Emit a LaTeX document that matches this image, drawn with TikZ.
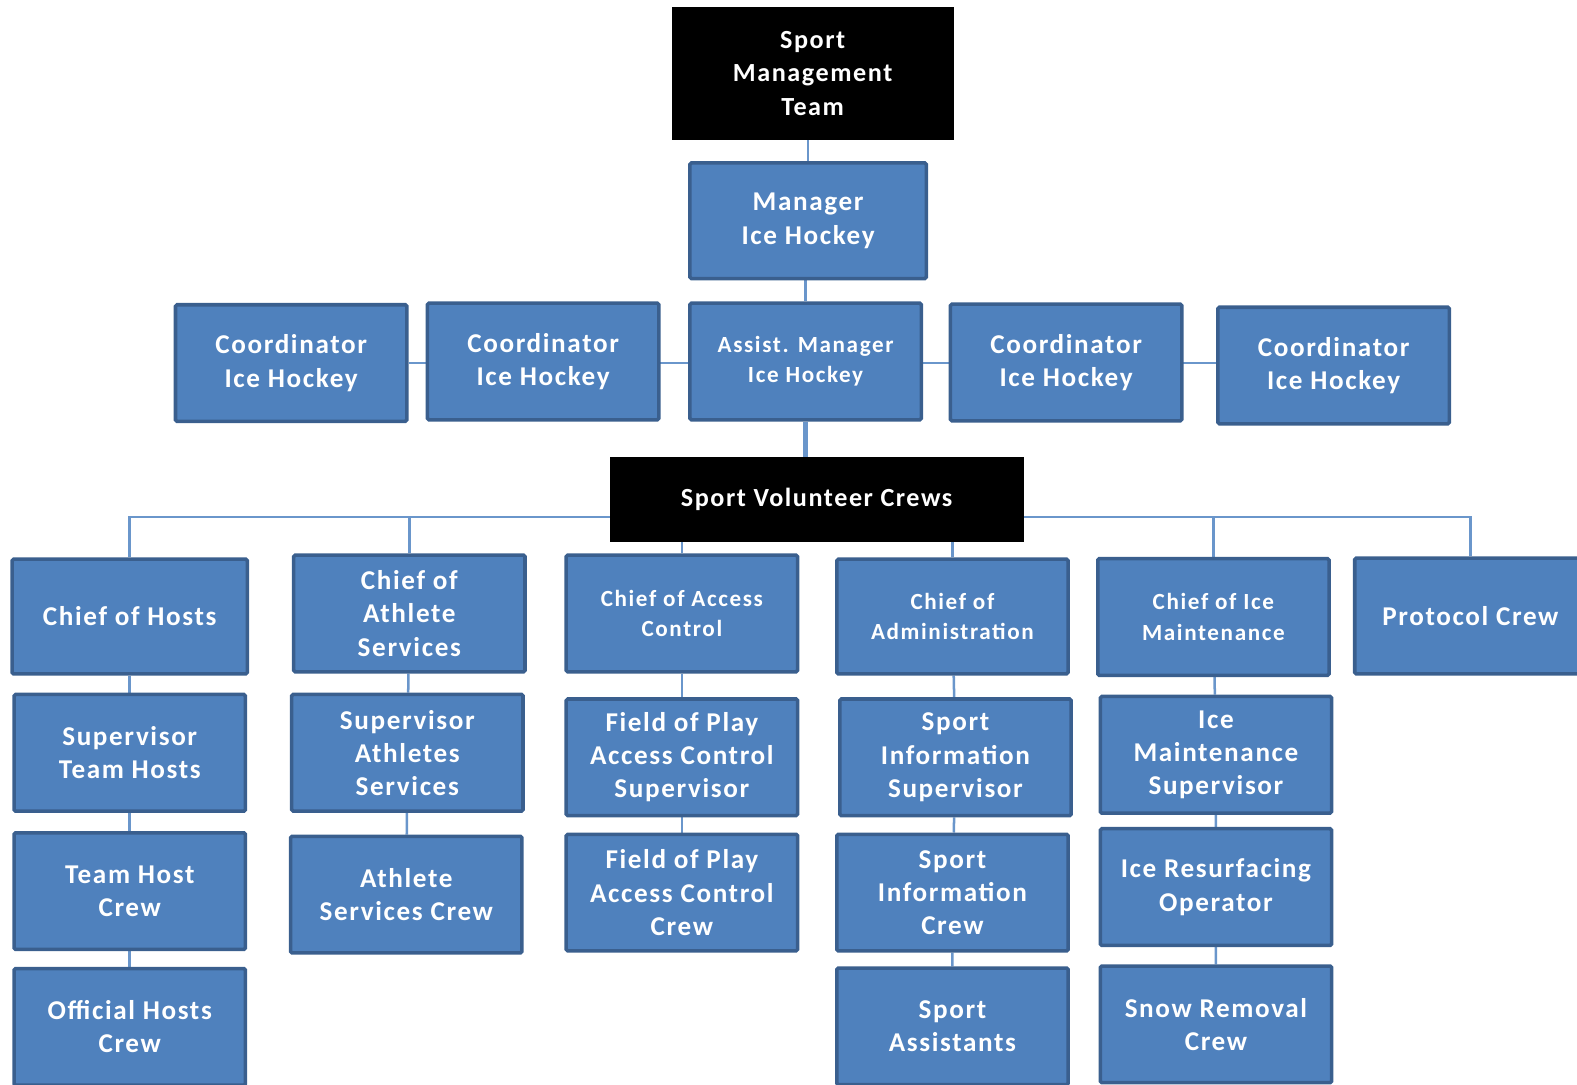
\documentclass[tikz,border=0pt]{standalone}
\usepackage{fontspec}
\setmainfont{Carlito}
\newfontfamily\boxfont[LetterSpace=6]{Carlito}
\newfontfamily\smallfont[LetterSpace=7]{Carlito}
\usetikzlibrary{backgrounds}
\definecolor{boxfill}{HTML}{4F81BD}
\definecolor{boxborder}{HTML}{3A5F8E}
\definecolor{linkcol}{HTML}{6A96CB}
\tikzset{
  bx/.style={draw=boxborder, line width=3.5pt, fill=boxfill, rounded corners=1.5pt,
    text=white, align=center, inner sep=0pt, minimum width=230pt, minimum height=116pt,
    font=\boxfont\bfseries\fontsize{27}{33}\selectfont},
  small/.style={font=\smallfont\bfseries\fontsize{23}{30}\selectfont},
  blk/.style={draw=black, fill=black, text=white, align=center, inner sep=0pt,
    font=\boxfont\bfseries\fontsize{26}{33}\selectfont},
  link/.style={draw=linkcol, line width=2.5pt},
}
\begin{document}
\begin{tikzpicture}[x=1pt,y=-1pt]
\useasboundingbox (0,0) rectangle (1568,1078);
% top
\node[blk, minimum width=280pt, minimum height=131pt] (smt) at (808,73) {Sport\\Management\\Team};
\node[bx, minimum width=235pt, minimum height=115pt] (mgr) at (803.5,219.5) {Manager\\Ice Hockey};
% row 2
\node[bx] (c1) at (289.5,361) {Coordinator\\Ice Hockey};
\node[bx] (c2) at (540,359.5) {Coordinator\\Ice Hockey};
\node[bx, small] (asst) at (801,359.5) {Assist. Manager\\Ice Hockey};
\node[bx] (c3) at (1060,360.5) {Coordinator\\Ice Hockey};
\node[bx] (c4) at (1326,363.5) {Coordinator\\Ice Hockey};
% crews
\node[blk, minimum width=410pt, minimum height=83pt] (svc) at (812,496.5) {Sport Volunteer Crews};
% chiefs
\node[bx, minimum width=234pt, minimum height=114pt] (hosts) at (129,613) {Chief of Hosts};
\node[bx] (ath) at (407,610) {Chief of\\Athlete\\Services};
\node[bx, small] (acc) at (678,610) {Chief of Access\\Control};
\node[bx, small, minimum height=114pt] (adm) at (947,613) {Chief of\\Administration};
\node[bx, small] (ice) at (1206.5,613.5) {Chief of Ice\\Maintenance};
\node[bx, minimum width=230pt, minimum height=115pt] (prot) at (1462,612.5) {Protocol Crew};
% row 4
\node[bx] (sth) at (129,748.5) {Supervisor\\Team Hosts};
\node[bx] (sas) at (405,748.5) {Supervisor\\Athletes\\Services};
\node[bx] (fps) at (678,753) {Field of Play\\Access Control\\Supervisor};
\node[bx] (sis) at (950,753) {Sport\\Information\\Supervisor};
\node[bx] (ims) at (1209,750.5) {Ice\\Maintenance\\Supervisor};
% row 5
\node[bx] (thc) at (129,886) {Team Host\\Crew};
\node[bx] (asc) at (404,889.5) {Athlete\\Services Crew};
\node[bx] (fpc) at (678,887.5) {Field of Play\\Access Control\\Crew};
\node[bx] (sic) at (947,887.5) {Sport\\Information\\Crew};
\node[bx] (iro) at (1209,882) {Ice Resurfacing\\Operator};
% row 6
\node[bx] (ohc) at (129,1021) {Official Hosts\\Crew};
\node[bx] (sa) at (947,1020.5) {Sport\\Assistants};
\node[bx] (src) at (1209,1018.5) {Snow Removal\\Crew};
\coordinate (bus) at (0,514);
\begin{pgfonlayer}{background}
\draw[link] (smt.south -| mgr.north) -- (mgr.north);
\draw[link] (mgr.south -| asst.north) -- (asst.north);
\draw[link] (c1.east) -- (c4.west |- c1.east);
\draw[link, line width=5pt] (asst.south) -- (asst.south |- svc.north);
\draw[link] (hosts.north) -- (hosts.north |- bus) -- (prot.north |- bus) -- (prot.north);
\foreach \n in {ath,acc,adm,ice} \draw[link] (\n.north) -- (\n.north |- bus);
\draw[link] (svc.south) -- (svc.south |- bus);
\draw[link] (hosts) -- (sth) -- (thc) -- (ohc);
\draw[link] (ath) -- (sas) -- (asc);
\draw[link] (acc) -- (fps) -- (fpc);
\draw[link] (adm) -- (sis) -- (sic) -- (sa);
\draw[link] (ice) -- (ims) -- (iro) -- (src);
\end{pgfonlayer}
\end{tikzpicture}
\end{document}
